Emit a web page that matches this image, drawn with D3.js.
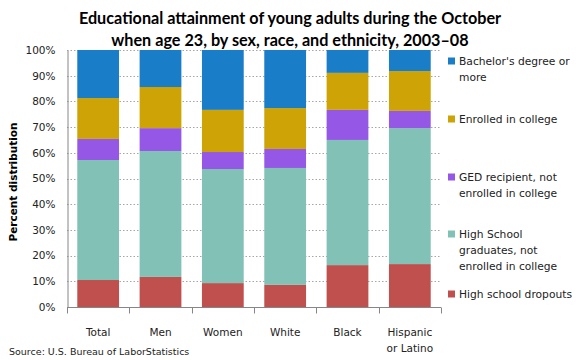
<!DOCTYPE html>
<html><head><meta charset="utf-8">
<script src="https://cdn.jsdelivr.net/npm/d3@7"></script>
<style>body{margin:0;background:#fff}svg{display:block}</style>
</head><body>
<svg id="chart" width="580" height="360"></svg>
<script>
const categories = ["Total","Men","Women","White","Black","Hispanic\nor Latino"];
const seriesNames = ["High school dropouts","High School graduates, not enrolled in college","GED recipient, not enrolled in college","Enrolled in college","Bachelor's degree or more"];
const dropouts   = [10.5, 11.7,  9.3,  8.6, 16.3, 16.7];
const hsGrads    = [46.7, 49.0, 44.4, 45.5, 48.7, 52.9];
const ged        = [ 8.2,  8.9,  6.6,  7.4, 11.7,  6.7];
const enrolled   = [15.9, 16.0, 16.4, 15.9, 14.4, 15.5];
const bachelors  = [18.7, 14.4, 23.3, 22.6,  8.9,  8.2];
const yTicks = [0,10,20,30,40,50,60,70,80,90,100];
const colors = ["#c0504d","#82c1b5","#9558e6","#cda305","#1a7dc8"];

const seriesData = [dropouts, hsGrads, ged, enrolled, bachelors];
const rows = categories.map((c,i)=>{const o={cat:c}; seriesNames.forEach((s,j)=>o[s]=seriesData[j][i]); return o;});
const stack = d3.stack().keys(seriesNames).offset(d3.stackOffsetExpand);
const stacked = stack(rows);

const svg = d3.select("#chart");
const m = {left:67, right:441, top:50, bottom:307};
const x = d3.scaleBand().domain(categories).range([m.left, m.right]).paddingInner(0.33).paddingOuter(0.165);
const y = d3.scaleLinear().domain([0,1]).range([m.bottom, m.top]);

// gridlines
svg.append("g").selectAll("line").data(yTicks.filter(t=>t>0)).join("line")
  .attr("x1", m.left).attr("x2", m.right)
  .attr("y1", d=>Math.round(y(d/100))+0.5).attr("y2", d=>Math.round(y(d/100))+0.5)
  .attr("stroke","#a6a6a6").attr("stroke-width",1).attr("stroke-dasharray","1.5,2");

// bars
svg.append("g").selectAll("g").data(stacked).join("g").attr("fill",(d,i)=>colors[i])
  .selectAll("rect").data(d=>d).join("rect")
  .attr("x", d=>x(d.data.cat)).attr("width", x.bandwidth())
  .attr("y", d=>y(d[1])).attr("height", d=>y(d[0])-y(d[1]));

// y axis
const yAxis = d3.axisLeft(y).tickValues(yTicks.map(t=>t/100)).tickFormat(d=>Math.round(d*100)+"%").tickSize(0).tickPadding(12);
const ya = svg.append("g").attr("transform",`translate(${m.left+0.5},0)`).call(yAxis);
ya.select(".domain").attr("stroke","#868686");
ya.selectAll("text").attr("font-family","DejaVu Sans").attr("font-size","10.5px").attr("fill","#222");

// x axis
const xa = svg.append("g").attr("transform",`translate(0,${m.bottom+0.5})`);
xa.append("line").attr("x1",m.left).attr("x2",m.right).attr("stroke","#868686");
const step = (m.right-m.left)/categories.length;
xa.selectAll("line.tk").data(d3.range(categories.length+1)).join("line").attr("class","tk")
  .attr("x1",i=>Math.round(m.left+i*step)+0.5).attr("x2",i=>Math.round(m.left+i*step)+0.5)
  .attr("y1",0).attr("y2",6).attr("stroke","#868686");
xa.selectAll("text").data(categories).join("text")
  .attr("x", d=>x(d)+x.bandwidth()/2).attr("y", 28)
  .attr("text-anchor","middle").attr("font-family","DejaVu Sans").attr("font-size","10.5px").attr("fill","#222")
  .each(function(d){
    const lines = d.split("\n");
    d3.select(this).selectAll("tspan").data(lines).join("tspan")
      .attr("x", x(d)+x.bandwidth()/2).attr("dy",(l,i)=>i===0?0:"1.6em").text(l=>l);
  });

// y title
svg.append("text").attr("transform","translate(17,182) rotate(-90)").attr("text-anchor","middle")
  .attr("font-family","DejaVu Sans").attr("font-weight","bold").attr("font-size","10.5px").attr("fill","#000")
  .text("Percent distribution");

// title
const title = svg.append("text").attr("text-anchor","middle").attr("font-family","Lato").attr("font-weight","bold").attr("font-size","16.2px").attr("fill","#000");
title.append("tspan").attr("x",290).attr("y",24).text("Educational attainment of young adults during the October");
title.append("tspan").attr("x",290).attr("y",46).text("when age 23, by sex, race, and ethnicity, 2003\u201308");

// legend
const legendItems = [
  {i:4, lines:["Bachelor's degree or","more"], y:61},
  {i:3, lines:["Enrolled in college"], y:119},
  {i:2, lines:["GED recipient, not","enrolled in college"], y:177},
  {i:1, lines:["High School","graduates, not","enrolled in college"], y:234},
  {i:0, lines:["High school dropouts"], y:294}
];
const lg = svg.append("g");
legendItems.forEach(it=>{
  lg.append("rect").attr("x",448).attr("y",it.y-3.5).attr("width",7).attr("height",7).attr("fill",colors[it.i]);
  const t = lg.append("text").attr("font-family","DejaVu Sans").attr("font-size","10.7px").attr("fill","#222");
  it.lines.forEach((l,k)=>t.append("tspan").attr("x",459).attr("y",it.y+4+k*16).text(l));
});

// source
svg.append("text").attr("x",9).attr("y",355).attr("font-family","DejaVu Sans").attr("font-size","9.5px").attr("fill","#222")
  .text("Source:  U.S. Bureau of LaborStatistics");
</script>
</body></html>
